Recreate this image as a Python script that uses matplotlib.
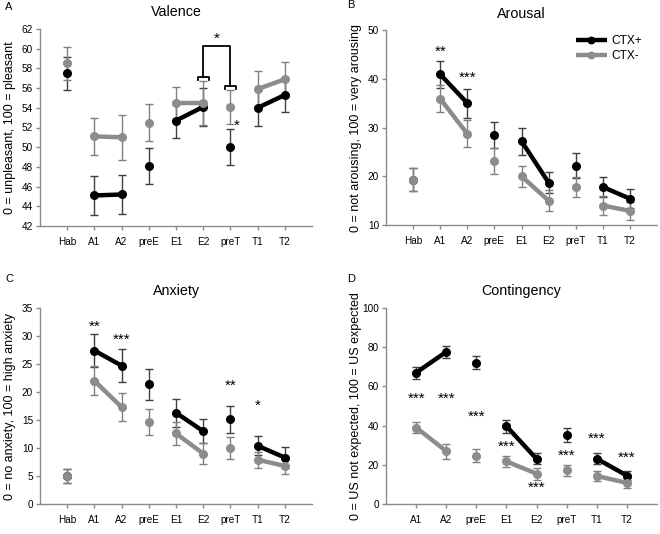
import matplotlib.pyplot as plt

plt.rcParams['font.family'] = ['Liberation Sans', 'DejaVu Sans']

# categories
cats9 = ['Hab', 'A1', 'A2', 'preE', 'E1', 'E2', 'preT', 'T1', 'T2']
cats8 = ['A1', 'A2', 'preE', 'E1', 'E2', 'preT', 'T1', 'T2']

# Valence
val_pos = [57.5, 45.1, 45.2, 48.1, 52.7, 54.1, 50.0, 54.0, 55.3]
val_pos_err = [1.7, 2.0, 2.0, 1.85, 1.8, 1.9, 1.8, 1.8, 1.7]
val_neg = [58.5, 51.1, 51.0, 52.5, 54.5, 54.5, 54.1, 55.9, 56.9]
val_neg_err = [1.7, 1.9, 2.3, 1.9, 1.65, 2.2, 1.7, 1.8, 1.7]

# Arousal
aro_pos = [19.3, 40.9, 35.0, 28.4, 27.2, 18.7, 22.2, 17.8, 15.4]
aro_pos_err = [2.4, 2.8, 3.0, 2.7, 2.8, 2.2, 2.5, 2.0, 2.0]
aro_neg = [19.3, 35.9, 28.7, 23.1, 20.0, 15.0, 17.8, 14.0, 12.9]
aro_neg_err = [2.4, 2.8, 2.8, 2.6, 2.2, 2.1, 2.1, 1.9, 1.9]

# Anxiety
anx_pos = [5.0, 27.4, 24.7, 21.4, 16.3, 13.0, 15.1, 10.4, 8.3]
anx_pos_err = [1.3, 2.9, 2.95, 2.75, 2.5, 2.15, 2.4, 1.7, 1.8]
anx_neg = [5.0, 22.0, 17.3, 14.7, 12.6, 9.0, 10.0, 7.9, 6.8]
anx_neg_err = [1.3, 2.6, 2.5, 2.3, 2.1, 1.9, 2.0, 1.4, 1.4]

# Contingency
con_pos = [67.0, 77.6, 72.0, 39.7, 23.0, 35.3, 23.1, 14.5]
con_pos_err = [3.0, 3.0, 3.3, 3.4, 2.8, 3.6, 2.8, 2.4]
con_neg = [39.0, 27.0, 24.7, 21.7, 15.5, 17.1, 14.3, 10.8]
con_neg_err = [3.0, 3.8, 3.5, 3.0, 3.0, 3.0, 2.7, 2.5]

# significance stars: (category, y, text)
aro_stars = [('A1', 45.5, '**'), ('A2', 40.2, '***')]
anx_stars = [('A1', 31.6, '**'), ('A2', 29.3, '***'), ('preT', 21.1, '**'), ('T1', 17.6, '*')]
con_stars = [('A1', 53.8, '***'), ('A2', 53.8, '***'), ('preE', 44.6, '***'),
             ('E1', 29.2, '***'), ('E2', 8.5, '***'), ('preT', 24.6, '***'),
             ('T1', 33.1, '***'), ('T2', 23.7, '***')]

BLACK = '#000000'
GRAY = '#8c8c8c'
AXC = '#8c8c8c'

W, H = 660, 534
fig = plt.figure(figsize=(6.6, 5.34), dpi=100)


def make_axes(l, r, t, b):
    return fig.add_axes([l / W, 1 - b / H, (r - l) / W, (b - t) / H])


def draw_series(ax, cats, vals, errs, color, ecolor, pairs):
    xs = list(range(1, len(cats) + 1))
    ax.errorbar(xs, vals, yerr=errs, fmt='none', ecolor=ecolor, elinewidth=1,
                capsize=2.6, capthick=1, zorder=2)
    used = set()
    line = None
    for i, j in pairs:
        line, = ax.plot([xs[i], xs[j]], [vals[i], vals[j]], color=color, lw=3.2,
                        marker='o', ms=5.5, solid_capstyle='butt', zorder=3)
        used.update([i, j])
    for k in range(len(xs)):
        if k not in used:
            ax.plot(xs[k], vals[k], 'o', color=color, ms=5.5, zorder=3)
    return line


def style(ax, cats, ylim, yticks, ylabel, title, letter, letter_xy):
    ax.set_xlim(0, len(cats) + 1)
    ax.set_ylim(*ylim)
    ax.set_xticks(range(1, len(cats) + 1))
    ax.set_xticklabels(cats, fontsize=7.2)
    ax.set_yticks(yticks)
    ax.set_yticklabels([str(v) for v in yticks], fontsize=7.2)
    for s in ['top', 'right']:
        ax.spines[s].set_visible(False)
    for s in ['left', 'bottom']:
        ax.spines[s].set_color(AXC)
        ax.spines[s].set_linewidth(1)
    ax.tick_params(axis='both', color=AXC, length=3, width=1, pad=2)
    ax.tick_params(axis='x', pad=5)
    ax.set_ylabel(ylabel, fontsize=9)
    ax.yaxis.set_label_coords(-0.09, 0.5)
    ax.set_title(title, fontsize=10.3, pad=9)
    fig.text(letter_xy[0] / W, 1 - letter_xy[1] / H, letter, fontsize=8,
             ha='left', va='center')


def add_stars(ax, cats, stars, dx=0.0):
    for c, y, t in stars:
        ax.text(cats.index(c) + 1 + dx, y, t, ha='center', va='center', fontsize=11)


pairs9 = [(1, 2), (4, 5), (7, 8)]
pairs8 = [(0, 1), (3, 4), (6, 7)]

# A: Valence
axA = make_axes(40, 312, 29, 226)
draw_series(axA, cats9, val_pos, val_pos_err, BLACK, '#404040', pairs9)
draw_series(axA, cats9, val_neg, val_neg_err, GRAY, '#808080', pairs9)
style(axA, cats9, (42, 62), list(range(42, 63, 2)), '0 = unpleasant, 100 = pleasant',
      'Valence', 'A', (5, 7))
xe, xp = cats9.index('E2') + 1, cats9.index('preT') + 1
top, le, re = 60.3, 57.1, 56.2
axA.plot([xe, xe, xp, xp], [le, top, top, re], color='black', lw=1.3, zorder=4)
for x0, y0 in [(xe, le), (xp, re)]:
    axA.plot([x0 - 0.2, x0 - 0.2, x0 + 0.2, x0 + 0.2], [y0 - 0.25, y0, y0, y0 - 0.25],
             color='black', lw=1.3, zorder=4)
axA.text((xe + xp) / 2, 61.0, '*', ha='center', va='center', fontsize=11)
axA.text(xp + 0.25, 52.2, '*', ha='center', va='center', fontsize=11)

# B: Arousal
axB = make_axes(386, 657, 30, 225)
lp = draw_series(axB, cats9, aro_pos, aro_pos_err, BLACK, '#404040', pairs9)
ln = draw_series(axB, cats9, aro_neg, aro_neg_err, GRAY, '#808080', pairs9)
style(axB, cats9, (10, 50), list(range(10, 51, 10)), '0 = not arousing, 100 = very arousing',
      'Arousal', 'B', (347, 5))
add_stars(axB, cats9, aro_stars)
axB.legend([lp, ln], ['CTX+', 'CTX-'], loc='upper right', bbox_to_anchor=(0.985, 1.03),
           frameon=False, fontsize=8.6, handlelength=2.6, handletextpad=0.4,
           labelspacing=0.3, markerscale=0.85)

# C: Anxiety
axC = make_axes(40, 312, 308, 504)
draw_series(axC, cats9, anx_pos, anx_pos_err, BLACK, '#404040', pairs9)
draw_series(axC, cats9, anx_neg, anx_neg_err, GRAY, '#808080', pairs9)
style(axC, cats9, (0, 35), list(range(0, 36, 5)), '0 = no anxiety, 100 = high anxiety',
      'Anxiety', 'C', (5, 279))
add_stars(axC, cats9, anx_stars)

# D: Contingency
axD = make_axes(386, 657, 308, 504)
draw_series(axD, cats8, con_pos, con_pos_err, BLACK, '#404040', pairs8)
draw_series(axD, cats8, con_neg, con_neg_err, GRAY, '#808080', pairs8)
style(axD, cats8, (0, 100), list(range(0, 101, 20)), '0 = US not expected, 100 = US expected',
      'Contingency', 'D', (347, 279))
add_stars(axD, cats8, con_stars)

fig.savefig('out.png', dpi=100)
